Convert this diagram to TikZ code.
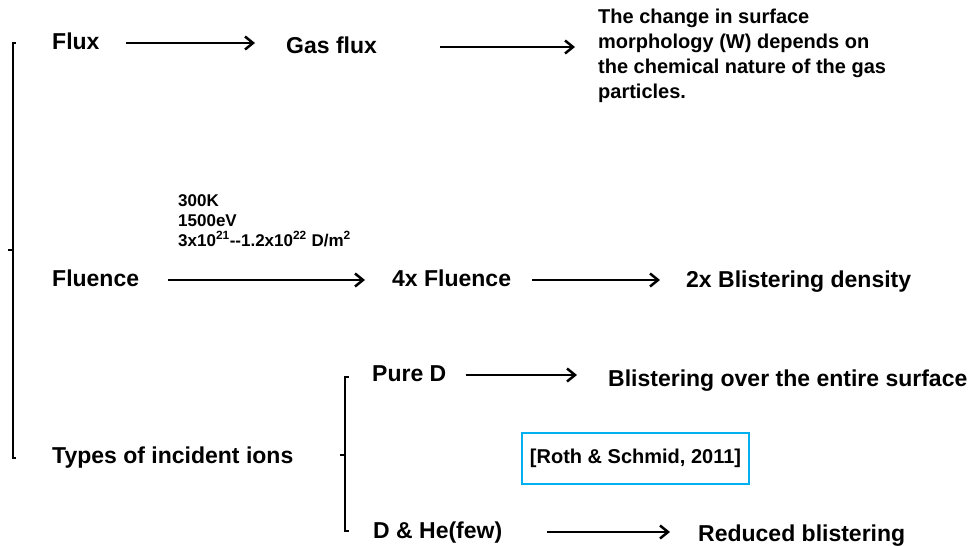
\documentclass[tikz,border=0pt]{standalone}
\usepackage{fontspec}
\setmainfont{Liberation Sans}
\usetikzlibrary{arrows.meta}

\begin{document}
\begin{tikzpicture}[x=1pt,y=-1pt,
  lbl/.style={font=\fontsize{23}{27}\selectfont\bfseries,inner sep=0pt,anchor=base west,text height=17pt,text depth=5pt},
  note/.style={font=\fontsize{#1}{25}\selectfont\bfseries,inner sep=0pt,anchor=north west,align=left},
  arr/.style={line width=2.5pt,-{Straight Barb[length=8pt,width=13pt]}},
  brk/.style={line width=2.5pt}]
\useasboundingbox (0,0) rectangle (977,546);
% brackets
\draw[brk] (16,43) -- (13,43) -- (13,458) -- (16,458);
\draw[brk] (13,250) -- (8,250);
\draw[brk] (349,377) -- (345,377) -- (345,531) -- (349,531);
\draw[brk] (345,455) -- (340,455);
% flux row
\node[lbl] (flux) at (52,49) {Flux};
\node[lbl] (gasflux) at (286,53) {Gas flux};
\node[note=20] (morph) at (598,9) {The change in surface\\morphology (W) depends on\\the chemical nature of the gas\\particles.};
\draw[arr,shorten <=26pt,shorten >=31pt] (flux.east) -- (flux.east -| gasflux.west);
\draw[arr,shorten <=63pt,shorten >=23pt] (gasflux.east) -- (gasflux.east -| morph.west);
% fluence row
\node[lbl] (fluence) at (52,286) {Fluence};
\node[note=17,font=\fontsize{17}{20}\selectfont\bfseries] (cond) at (178,194) {300K\\1500eV\\3x10\textsuperscript{21}-{}-1.2x10\textsuperscript{22} D/m\textsuperscript{2}};
\node[lbl] (fx4) at (392,286) {4x Fluence};
\node[lbl] (density) at (686,287) {2x Blistering density};
\draw[arr,shorten <=29pt,shorten >=27pt] (fluence.east) -- (fluence.east -| fx4.west);
\draw[arr,shorten <=21pt,shorten >=26pt] (fx4.east) -- (fx4.east -| density.west);
% ion types
\node[lbl] (types) at (52,463) {Types of incident ions};
\node[lbl] (pured) at (372,381) {Pure D};
\node[lbl] (surface) at (608,386) {Blistering over the entire surface};
\node[lbl] (dhe) at (373,538) {D \& He(few)};
\node[lbl] (reduced) at (698,541) {Reduced blistering};
\draw[arr,shorten <=19pt,shorten >=31pt] (pured.east) -- (pured.east -| surface.west);
\draw[arr,shorten <=45pt,shorten >=28pt] (dhe.east) -- (dhe.east -| reduced.west);
\definecolor{refblue}{RGB}{0,176,240}
\node[draw=refblue,line width=1.5pt,minimum width=227pt,minimum height=51pt,inner sep=0pt,font=\fontsize{20}{24}\selectfont\bfseries] (ref) at (635.5,458.5) {[Roth \& Schmid, 2011]};
\end{tikzpicture}
\end{document}
